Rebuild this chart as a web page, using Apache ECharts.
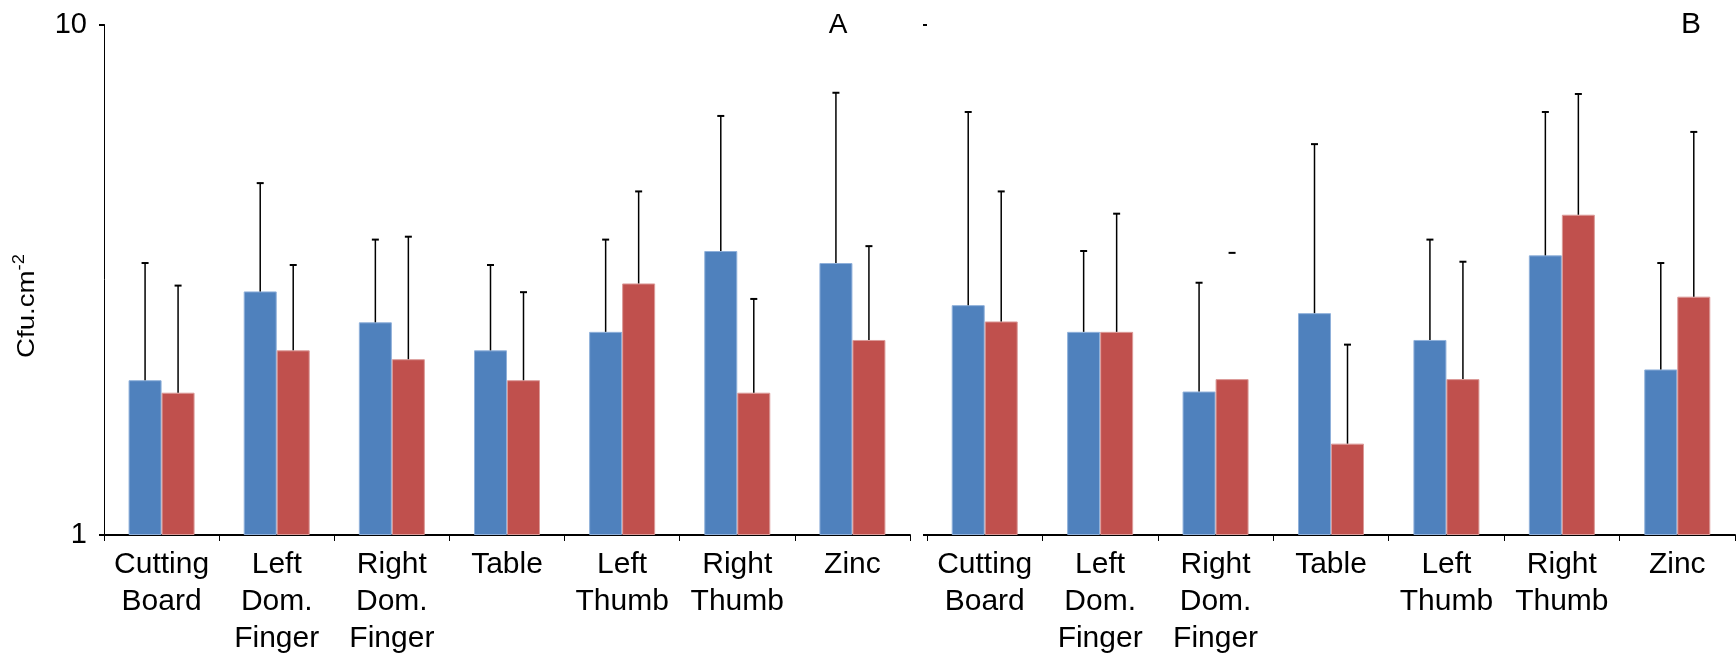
<!DOCTYPE html>
<html>
<head>
<meta charset="utf-8">
<script src="https://cdn.jsdelivr.net/npm/echarts@6/dist/echarts.min.js"></script>
<style>
html,body{margin:0;padding:0;background:#fff;}
#c{width:1736px;height:657px;}
</style>
</head>
<body>
<div id="c"></div>
<script>
const categories = ['Cutting\nBoard', 'Left\nDom.\nFinger', 'Right\nDom.\nFinger', 'Table', 'Left\nThumb', 'Right\nThumb', 'Zinc'];
const yTicks = [1, 10];

// Panel A
const blueA    = [2.01, 3.00, 2.61, 2.30, 2.50, 3.60, 3.41];
const redA     = [1.90, 2.30, 2.21, 2.01, 3.11, 1.90, 2.41];
const blueATop = [3.41, 4.89, 3.79, 3.38, 3.79, 6.62, 7.35];
const redATop  = [3.08, 3.38, 3.84, 2.99, 4.71, 2.90, 3.68];

// Panel B
const blueB    = [2.82, 2.50, 1.91, 2.72, 2.41, 3.53, 2.11];
const redB     = [2.62, 2.50, 2.02, 1.51, 2.02, 4.24, 2.93];
const blueBTop = [6.74, 3.60, 3.12, 5.83, 3.79, 6.74, 3.41];
const redBTop  = [4.71, 4.26, 3.57, 2.36, 3.43, 7.31, 6.16];

const FONT = "'Liberation Sans', Arial, Helvetica, sans-serif";
const BLUE = '#4F81BD';
const RED = '#C0504D';
const BAR_W = 33;

const chart = echarts.init(document.getElementById('c'), null, {renderer: 'canvas'});

function xAxisOf(g) {
  return {
    type: 'category', gridIndex: g, data: categories,
    axisLine: {lineStyle: {color: '#000', width: 2}},
    axisTick: {show: true, length: 6, lineStyle: {color: '#000', width: 1}},
    axisLabel: {interval: 0, color: '#000', fontSize: 30, lineHeight: 37, margin: 11, fontFamily: FONT}
  };
}

function errSeries(g, vals, tops, offset, capOnlyIndex) {
  return {
    type: 'custom', xAxisIndex: g, yAxisIndex: g, z: 5,
    data: categories.map((c, i) => [i, vals[i], tops[i]]),
    encode: {x: 0, y: [1, 2]},
    renderItem: function (params, api) {
      const i = api.value(0);
      const p0 = api.coord([i, api.value(1)]);
      const p1 = api.coord([i, api.value(2)]);
      const x = p0[0] + offset;
      const children = [];
      if (i !== capOnlyIndex) {
        children.push({type: 'line', shape: {x1: x, y1: p0[1], x2: x, y2: p1[1]},
          style: {stroke: '#000', lineWidth: 1.5}});
      }
      children.push({type: 'line', shape: {x1: x - 3.5, y1: p1[1], x2: x + 3.5, y2: p1[1]},
        style: {stroke: '#000', lineWidth: 2}});
      return {type: 'group', children: children};
    }
  };
}

function barSeries(g, vals, color, border) {
  return {
    type: 'bar', xAxisIndex: g, yAxisIndex: g, data: vals,
    barWidth: BAR_W, barGap: '0%',
    itemStyle: {color: color, borderColor: border, borderWidth: 1}
  };
}

const option = {
  animation: false,
  backgroundColor: '#fff',
  grid: [
    {left: 104, top: 24.5, width: 806, height: 512.5},
    {left: 927, top: 24.5, width: 808, height: 512.5}
  ],
  xAxis: [xAxisOf(0), xAxisOf(1)],
  yAxis: [
    {type: 'log', logBase: 10, min: yTicks[0], max: yTicks[1], gridIndex: 0,
      axisLine: {show: true, lineStyle: {color: '#000', width: 1}},
      axisTick: {show: true, length: 5, lineStyle: {color: '#000', width: 2}},
      axisLabel: {color: '#000', fontSize: 29, margin: 17, fontFamily: FONT},
      splitLine: {show: false}},
    {type: 'log', logBase: 10, min: yTicks[0], max: yTicks[1], gridIndex: 1,
      axisLine: {show: false},
      axisTick: {show: true, length: 4, lineStyle: {color: '#000', width: 2}},
      axisLabel: {show: false},
      splitLine: {show: false}}
  ],
  series: [
    barSeries(0, blueA, BLUE, '#8FB0DA'),
    barSeries(0, redA, RED, '#DB9A98'),
    barSeries(1, blueB, BLUE, '#8FB0DA'),
    barSeries(1, redB, RED, '#DB9A98'),
    errSeries(0, blueA, blueATop, -BAR_W / 2, -1),
    errSeries(0, redA, redATop, BAR_W / 2, -1),
    errSeries(1, blueB, blueBTop, -BAR_W / 2, -1),
    errSeries(1, redB, redBTop, BAR_W / 2, 2)
  ],
  graphic: [
    {type: 'text', x: 838, y: 25, z: 10,
      style: {text: 'A', font: '28px ' + FONT, fill: '#000', align: 'center', verticalAlign: 'middle'}},
    {type: 'text', x: 1691, y: 25, z: 10,
      style: {text: 'B', font: '30px ' + FONT, fill: '#000', align: 'center', verticalAlign: 'middle'}},
    {type: 'text', x: 27, y: 306, rotation: Math.PI / 2, scaleX: 1.15, scaleY: 1, z: 10,
      style: {
        text: '{a|Cfu.cm}{s|-2}',
        align: 'center', verticalAlign: 'middle',
        rich: {
          a: {fontSize: 24, fontFamily: FONT, fill: '#000', color: '#000', lineHeight: 28},
          s: {fontSize: 16, fontFamily: FONT, fill: '#000', color: '#000', lineHeight: 28, padding: [0, 0, 14, 0]}
        }
      }}
  ]
};
chart.setOption(option);
</script>
</body>
</html>
